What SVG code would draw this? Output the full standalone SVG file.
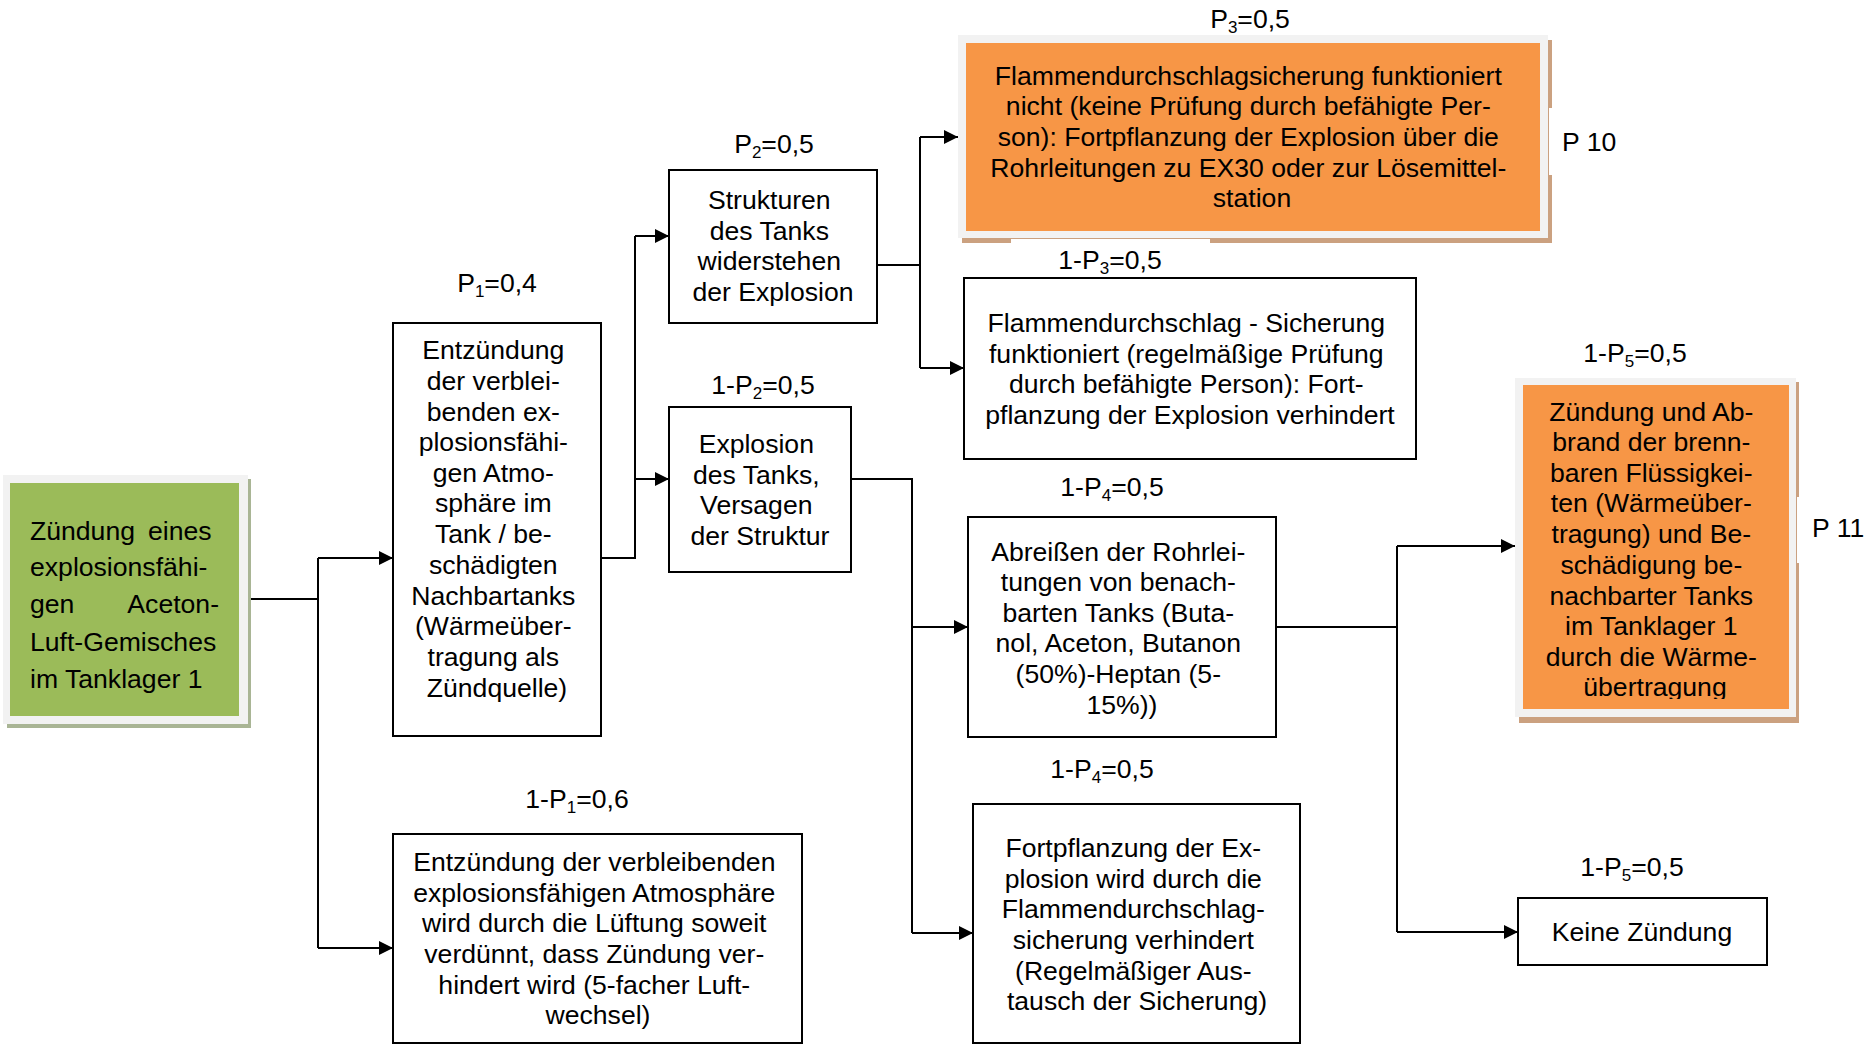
<svg xmlns="http://www.w3.org/2000/svg" width="1865" height="1045" viewBox="0 0 1865 1045">
  <defs>
    <style>
      .t { font-family: "Liberation Sans", Arial, sans-serif; font-size: 26.6px; fill: #000; }
      .c { text-anchor: middle; }
      .e { text-anchor: end; }
      .box { fill: #fff; stroke: #000; stroke-width: 2; }
      .edge { fill: none; stroke: #000; stroke-width: 2; }
      .halo { fill: #f2f2f2; }
      .sub { font-size: 17px; }
    </style>
    <marker id="arrow" markerWidth="14" markerHeight="14" refX="14" refY="7" orient="auto" markerUnits="userSpaceOnUse">
      <path d="M0,0 L14,7 L0,14 Z" fill="#000"/>
    </marker>
    <clipPath id="clipP11">
      <rect x="1515" y="378" width="285" height="321"/>
    </clipPath>
  </defs>

  <rect width="1865" height="1045" fill="#fff"/>

  <!-- connectors -->
  <g id="connectors">
    <path class="edge" d="M248,599 H318"/>
    <path class="edge" d="M318,558 V948"/>
    <path class="edge" d="M318,558 H393" marker-end="url(#arrow)"/>
    <path class="edge" d="M318,948 H393" marker-end="url(#arrow)"/>

    <path class="edge" d="M601,558 H635 V236"/>
    <path class="edge" d="M635,236 H669" marker-end="url(#arrow)"/>
    <path class="edge" d="M635,479 H669" marker-end="url(#arrow)"/>

    <path class="edge" d="M877,265 H920"/>
    <path class="edge" d="M920,137 V368"/>
    <path class="edge" d="M920,137 H958" marker-end="url(#arrow)"/>
    <path class="edge" d="M920,368 H964" marker-end="url(#arrow)"/>

    <path class="edge" d="M851,479 H912 V933"/>
    <path class="edge" d="M912,627 H968" marker-end="url(#arrow)"/>
    <path class="edge" d="M912,933 H973" marker-end="url(#arrow)"/>

    <path class="edge" d="M1276,627 H1397"/>
    <path class="edge" d="M1397,546 V932"/>
    <path class="edge" d="M1397,546 H1515" marker-end="url(#arrow)"/>
    <path class="edge" d="M1397,932 H1518" marker-end="url(#arrow)"/>
  </g>

  <!-- start event -->
  <g id="n-start">
    <rect x="7" y="479" width="244" height="249" fill="#a9b595"/>
    <rect class="halo" x="3" y="475" width="245" height="249"/>
    <rect x="10" y="483" width="229" height="233" fill="#9bbb59"/>
    <text class="t">
      <tspan x="30" y="540">Zündung</tspan>
      <tspan x="30" y="576">explosionsfähi-</tspan>
      <tspan x="30" y="613">gen</tspan>
      <tspan x="30" y="651">Luft-Gemisches</tspan>
      <tspan x="30" y="688">im Tanklager 1</tspan>
    </text>
    <text class="t e">
      <tspan x="219" y="540">eines</tspan>
      <tspan x="219" y="613">Aceton-</tspan>
    </text>
  </g>

  <!-- P1 branch -->
  <g id="n-p1">
    <text class="t c" x="497" y="292">P<tspan class="sub" dy="5">1</tspan><tspan dy="-5">=0,4</tspan></text>
    <rect class="box" x="393" y="323" width="208" height="413"/>
    <text class="t c">
      <tspan x="497" y="359">Entzündung</tspan>
      <tspan x="497" y="390">der verblei-</tspan>
      <tspan x="497" y="421">benden ex-</tspan>
      <tspan x="497" y="451">plosionsfähi-</tspan>
      <tspan x="497" y="482">gen Atmo-</tspan>
      <tspan x="497" y="512">sphäre im</tspan>
      <tspan x="497" y="543">Tank / be-</tspan>
      <tspan x="497" y="574">schädigten</tspan>
      <tspan x="497" y="605">Nachbartanks</tspan>
      <tspan x="497" y="635">(Wärmeüber-</tspan>
      <tspan x="497" y="666">tragung als</tspan>
      <tspan x="497" y="697">Zündquelle)</tspan>
    </text>
  </g>

  <!-- 1-P1 branch -->
  <g id="n-notp1">
    <text class="t c" x="577" y="808">1-P<tspan class="sub" dy="5">1</tspan><tspan dy="-5">=0,6</tspan></text>
    <rect class="box" x="393" y="834" width="409" height="209"/>
    <text class="t c">
      <tspan x="598" y="871">Entzündung der verbleibenden</tspan>
      <tspan x="598" y="902">explosionsfähigen Atmosphäre</tspan>
      <tspan x="598" y="932">wird durch die Lüftung soweit</tspan>
      <tspan x="598" y="963">verdünnt, dass Zündung ver-</tspan>
      <tspan x="598" y="994">hindert wird (5-facher Luft-</tspan>
      <tspan x="598" y="1024">wechsel)</tspan>
    </text>
  </g>

  <!-- P2 branch -->
  <g id="n-p2">
    <text class="t c" x="774" y="153">P<tspan class="sub" dy="5">2</tspan><tspan dy="-5">=0,5</tspan></text>
    <rect class="box" x="669" y="170" width="208" height="153"/>
    <text class="t c">
      <tspan x="773" y="209">Strukturen</tspan>
      <tspan x="773" y="240">des Tanks</tspan>
      <tspan x="773" y="270">widerstehen</tspan>
      <tspan x="773" y="301">der Explosion</tspan>
    </text>
  </g>

  <!-- 1-P2 branch -->
  <g id="n-notp2">
    <text class="t c" x="763" y="394">1-P<tspan class="sub" dy="5">2</tspan><tspan dy="-5">=0,5</tspan></text>
    <rect class="box" x="669" y="407" width="182" height="165"/>
    <text class="t c">
      <tspan x="760" y="453">Explosion</tspan>
      <tspan x="760" y="484">des Tanks,</tspan>
      <tspan x="760" y="514">Versagen</tspan>
      <tspan x="760" y="545">der Struktur</tspan>
    </text>
  </g>

  <!-- P3 branch (outcome P 10) -->
  <g id="n-p3">
    <text class="t c" x="1250" y="28">P<tspan class="sub" dy="5">3</tspan><tspan dy="-5">=0,5</tspan></text>
    <rect x="962" y="40" width="590" height="203" fill="#cba180"/>
    <rect class="halo" x="958" y="35" width="590" height="203"/>
    <rect x="966" y="43" width="574" height="188" fill="#f79646"/>
    <text class="t c">
      <tspan x="1252" y="85">Flammendurchschlagsicherung funktioniert</tspan>
      <tspan x="1252" y="115">nicht (keine Prüfung durch befähigte Per-</tspan>
      <tspan x="1252" y="146">son): Fortpflanzung der Explosion über die</tspan>
      <tspan x="1252" y="177">Rohrleitungen zu EX30 oder zur Lösemittel-</tspan>
      <tspan x="1252" y="207">station</tspan>
    </text>
    <rect x="1549" y="108" width="70" height="67" fill="#fff"/>
    <text class="t" x="1562" y="151">P 10</text>
  </g>

  <!-- 1-P3 branch -->
  <g id="n-notp3">
    <rect x="1011" y="239" width="199" height="36" fill="#fff"/>
    <text class="t c" x="1110" y="269">1-P<tspan class="sub" dy="5">3</tspan><tspan dy="-5">=0,5</tspan></text>
    <rect class="box" x="964" y="278" width="452" height="181"/>
    <text class="t c">
      <tspan x="1190" y="332">Flammendurchschlag - Sicherung</tspan>
      <tspan x="1190" y="363">funktioniert (regelmäßige Prüfung</tspan>
      <tspan x="1190" y="393">durch befähigte Person): Fort-</tspan>
      <tspan x="1190" y="424">pflanzung der Explosion verhindert</tspan>
    </text>
  </g>

  <!-- 1-P4 branch: pipe rupture -->
  <g id="n-notp4a">
    <text class="t c" x="1112" y="496">1-P<tspan class="sub" dy="5">4</tspan><tspan dy="-5">=0,5</tspan></text>
    <rect class="box" x="968" y="517" width="308" height="220"/>
    <text class="t c">
      <tspan x="1122" y="561">Abreißen der Rohrlei-</tspan>
      <tspan x="1122" y="591">tungen von benach-</tspan>
      <tspan x="1122" y="622">barten Tanks (Buta-</tspan>
      <tspan x="1122" y="652">nol, Aceton, Butanon</tspan>
      <tspan x="1122" y="683">(50%)-Heptan (5-</tspan>
      <tspan x="1122" y="714">15%))</tspan>
    </text>
  </g>

  <!-- 1-P4 branch: flame arrester -->
  <g id="n-notp4b">
    <text class="t c" x="1102" y="778">1-P<tspan class="sub" dy="5">4</tspan><tspan dy="-5">=0,5</tspan></text>
    <rect class="box" x="973" y="804" width="327" height="239"/>
    <text class="t c">
      <tspan x="1137" y="857">Fortpflanzung der Ex-</tspan>
      <tspan x="1137" y="888">plosion wird durch die</tspan>
      <tspan x="1137" y="918">Flammendurchschlag-</tspan>
      <tspan x="1137" y="949">sicherung verhindert</tspan>
      <tspan x="1137" y="980">(Regelmäßiger Aus-</tspan>
      <tspan x="1137" y="1010">tausch der Sicherung)</tspan>
    </text>
  </g>

  <!-- 1-P5 branch (outcome P 11) -->
  <g id="n-notp5a">
    <text class="t c" x="1635" y="362">1-P<tspan class="sub" dy="5">5</tspan><tspan dy="-5">=0,5</tspan></text>
    <rect x="1519" y="382" width="280" height="341" fill="#cba180"/>
    <rect class="halo" x="1515" y="378" width="281" height="339"/>
    <rect x="1523" y="385" width="266" height="324" fill="#f79646"/>
    <text class="t c" clip-path="url(#clipP11)">
      <tspan x="1655" y="421">Zündung und Ab-</tspan>
      <tspan x="1655" y="451">brand der brenn-</tspan>
      <tspan x="1655" y="482">baren Flüssigkei-</tspan>
      <tspan x="1655" y="512">ten (Wärmeüber-</tspan>
      <tspan x="1655" y="543">tragung) und Be-</tspan>
      <tspan x="1655" y="574">schädigung be-</tspan>
      <tspan x="1655" y="605">nachbarter Tanks</tspan>
      <tspan x="1655" y="635">im Tanklager 1</tspan>
      <tspan x="1655" y="666">durch die Wärme-</tspan>
      <tspan x="1655" y="696">übertragung</tspan>
    </text>
    <rect x="1797" y="497" width="68" height="66" fill="#fff"/>
    <text class="t" x="1812" y="537">P 11</text>
  </g>

  <!-- 1-P5 branch: no ignition -->
  <g id="n-notp5b">
    <text class="t c" x="1632" y="876">1-P<tspan class="sub" dy="5">5</tspan><tspan dy="-5">=0,5</tspan></text>
    <rect class="box" x="1518" y="898" width="249" height="67"/>
    <text class="t c" x="1642" y="941">Keine Zündung</text>
  </g>
</svg>
